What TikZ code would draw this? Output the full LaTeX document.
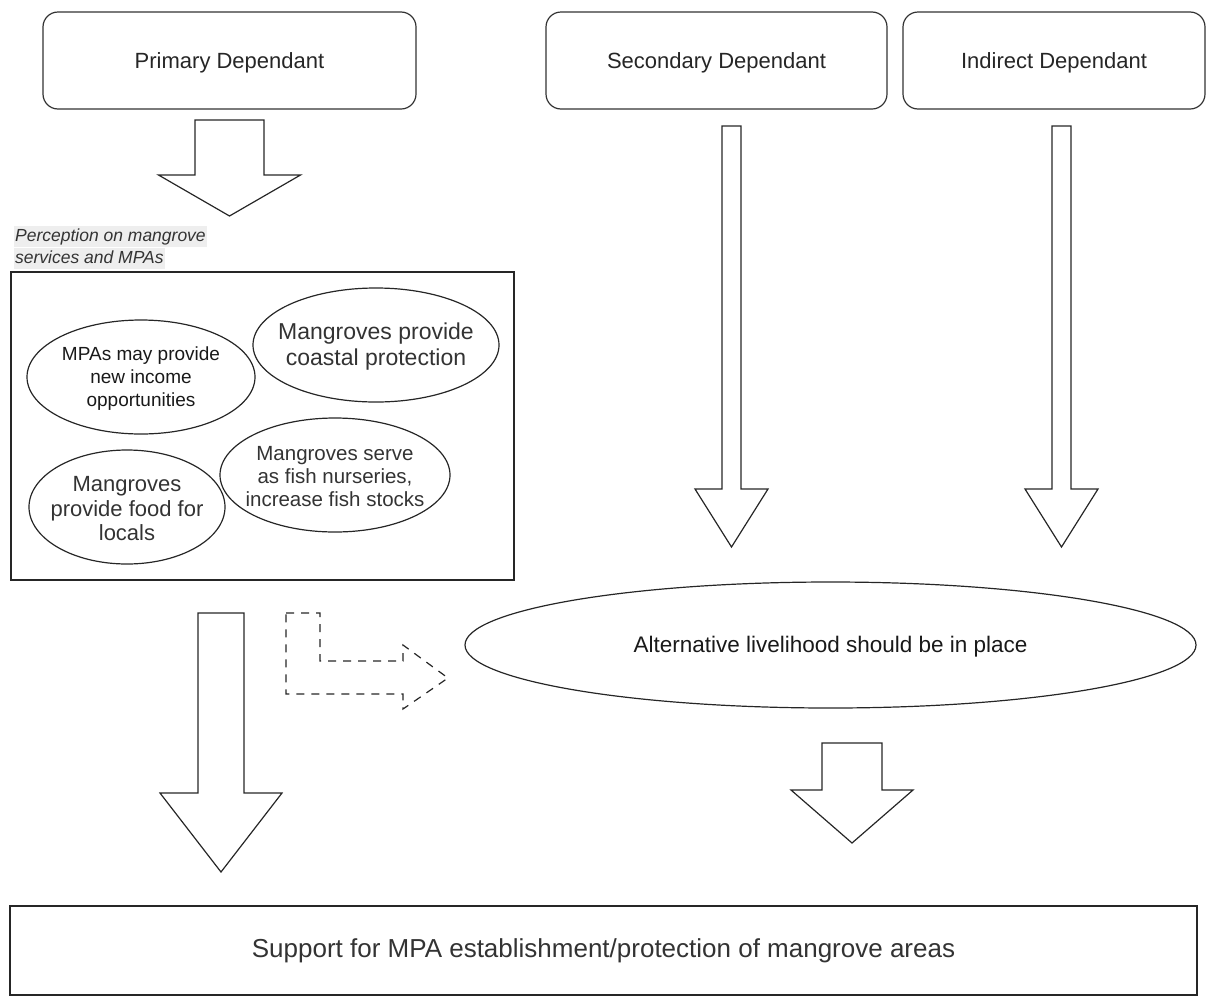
\documentclass[tikz,border=0pt]{standalone}
\usepackage{fontspec}
\setmainfont{Liberation Sans}
\usetikzlibrary{positioning,shapes.geometric}
% hollow block arrow pointing down: x, top, half shaft, half head, shoulder, tip
\newcommand{\fatarrow}[6]{%
  \draw[fat] ({#1-#3},#2) -- ({#1+#3},#2) -- ({#1+#3},#5) -- ({#1+#4},#5)
    -- (#1,#6) -- ({#1-#4},#5) -- ({#1-#3},#5) -- cycle;}

\begin{document}
\begin{tikzpicture}[x=1pt,y=-1pt,
  line width=1.2pt,
  dep/.style={draw=black!80,rounded corners=15pt,minimum height=97pt,
    font=\fontsize{22}{26}\selectfont,text=black!85,text depth=0pt},
  idea/.style={draw=black!85,ellipse,inner sep=0pt},
  say/.style={align=center,text=black!80,yshift=-2pt},
  fat/.style={draw=black!85,line join=miter},
  tag/.style={fill=gray!13,inner sep=1.5pt,text height=14pt,text depth=4pt,
    font=\fontsize{17.5}{21}\selectfont\itshape,text=black!80}]
\useasboundingbox (0,0) rectangle (1206,999);

% the three groups
\node[dep,minimum width=373pt] (prim) at (229.5,60.5) {Primary Dependant};
\node[dep,minimum width=341pt] (sec) at (716.5,60.5) {Secondary Dependant};
\node[dep,minimum width=302pt] (ind) at (1054,60.5) {Indirect Dependant};

\fatarrow{229.5}{120}{34.5}{71}{175}{216}
\fatarrow{731.5}{126}{9.5}{36.5}{489}{547}
\fatarrow{1061.5}{126}{9.5}{36.5}{489}{547}

% perceptions
\node[tag,anchor=north west] (lab1) at (13,225) {Perception on mangrove};
\node[tag,below=0pt of lab1.south west,anchor=north west] (lab2) {services and MPAs};
\node[draw=black!85,minimum width=503pt,minimum height=308pt] (frame) at (262.5,426) {};

\node[idea,minimum width=228pt,minimum height=114pt,
  label={[say,text=black!90,font=\fontsize{19}{23}\selectfont]center:MPAs may provide\\new income\\opportunities}]
  (income) at (141,377) {};
\node[idea,minimum width=246pt,minimum height=114pt,
  label={[say,font=\fontsize{23}{26}\selectfont]center:Mangroves provide\\coastal protection}]
  (coast) at (376,345) {};
\node[idea,minimum width=230pt,minimum height=114pt,
  label={[say,font=\fontsize{20.5}{23}\selectfont]center:Mangroves serve\\as fish nurseries,\\increase fish stocks}]
  (nursery) at (335,475) {};
\node[idea,minimum width=196pt,minimum height=114pt,
  label={[say,font=\fontsize{22}{24.5}\selectfont]center:Mangroves\\provide food for\\locals}]
  (food) at (127,507) {};

% towards support
\fatarrow{221}{613}{23}{61}{793}{872}
\draw[fat,dashed,dash pattern=on 8pt off 7pt] (286,613) -- (320,613) -- (320,661)
  -- (403,661) -- (403,645) -- (448,678) -- (403,709) -- (403,694) -- (286,694) -- cycle;

\node[idea,minimum width=731pt,minimum height=126pt,
  label={[say,text=black!90,font=\fontsize{22.5}{26}\selectfont]center:Alternative livelihood should be in place}]
  (alt) at (830.5,645) {};
\fatarrow{852}{743}{30}{61}{790}{843}

\node[draw=black!85,minimum width=1187pt,minimum height=89pt,
  font=\fontsize{26}{30}\selectfont,text=black!80] (support) at (603.5,950.5)
  {Support for MPA establishment/protection of mangrove areas};
\end{tikzpicture}
\end{document}
